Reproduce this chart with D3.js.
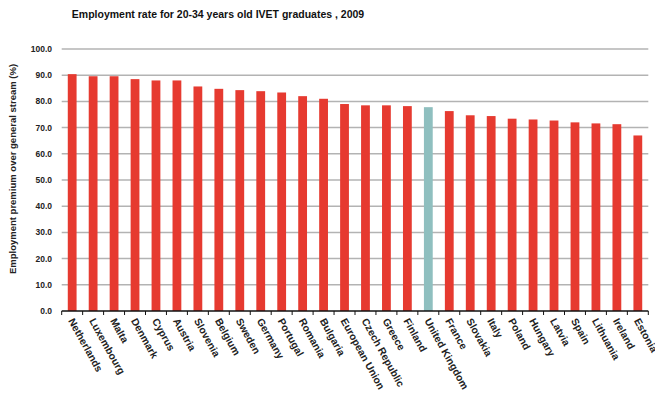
<!DOCTYPE html>
<html><head><meta charset="utf-8">
<script src="https://cdn.jsdelivr.net/npm/d3@7"></script>
<style>body{margin:0;background:#fff}svg{display:block}text{font-family:Arial,"Liberation Sans",sans-serif;}</style>
</head><body>
<svg id="c" width="655" height="399"></svg>
<script>
const categories = ["Netherlands","Luxembourg","Malta","Denmark","Cyprus","Austria","Slovenia","Belgium","Sweden","Germany","Portugal","Romania","Bulgaria","European Union","Czech Republic","Greece","Finland","United Kingdom","France","Slovakia","Italy","Poland","Hungary","Latvia","Spain","Lithuania","Ireland","Estonia"];
const values = [90.4,89.6,89.6,88.5,88.0,88.0,85.7,84.8,84.3,83.9,83.4,82.0,81.0,79.0,78.5,78.5,78.2,77.8,76.3,74.7,74.4,73.4,73.1,72.7,72.0,71.6,71.3,67.0];
const highlight = ["United Kingdom"];
const yTicks = [0,10,20,30,40,50,60,70,80,90,100];
const title = "Employment rate for 20-34 years old IVET graduates , 2009";
const yTitle = "Employment premium over general stream (%)";

const svg = d3.select("#c");
const x0 = 61.7, x1 = 648.3, yTop = 49, yBot = 311;
const x = d3.scaleBand().domain(categories).range([x0, x1]).paddingInner(0.58).paddingOuter(0.29);
const y = d3.scaleLinear().domain([0,100]).range([yBot, yTop]);

// gridlines
svg.append("g").selectAll("line").data(yTicks.filter(d=>d>0)).join("line")
  .attr("x1", x0).attr("x2", x1).attr("y1", d=>y(d)).attr("y2", d=>y(d))
  .attr("stroke", "#b3b3b3").attr("stroke-width", 1.5);

// y tick labels
svg.append("g").selectAll("text").data(yTicks).join("text")
  .attr("x", 52).attr("y", d=>y(d)).attr("dy","0.35em").attr("text-anchor","end")
  .attr("font-size", 8.5).attr("font-weight","bold").attr("fill","#222")
  .text(d=>d3.format(".1f")(d));

// bars
svg.append("g").selectAll("rect").data(categories).join("rect")
  .attr("x", d=>x(d)).attr("width", x.bandwidth())
  .attr("y", (d,i)=>y(values[i])).attr("height", (d,i)=>yBot - y(values[i]))
  .attr("fill", d=>highlight.includes(d) ? "#8fbfbf" : "#e63a30");

// x axis line and ticks at band boundaries
svg.append("line").attr("x1", x0).attr("x2", x1).attr("y1", yBot).attr("y2", yBot)
  .attr("stroke","#111").attr("stroke-width",1.5);
const bounds = d3.range(categories.length + 1).map(i => x0 + i * (x1 - x0) / categories.length);
svg.append("g").selectAll("line").data(bounds).join("line")
  .attr("x1", d=>d).attr("x2", d=>d).attr("y1", yBot).attr("y2", yBot+4)
  .attr("stroke","#111").attr("stroke-width",1);

// x labels
svg.append("g").selectAll("text").data(categories).join("text")
  .attr("transform", d=>`translate(${x(d)+x.bandwidth()/2-1},${yBot+8}) rotate(61)`)
  .attr("text-anchor","start").attr("dy","0.35em")
  .attr("font-size", 10.3).attr("font-weight","bold").attr("fill","#222")
  .text(d=>d);

// title
svg.append("text").attr("x", 218).attr("y", 18).attr("text-anchor","middle")
  .attr("font-size", 10.5).attr("font-weight","bold").attr("fill","#111").text(title);

// y title
svg.append("text").attr("transform", `translate(16,169) rotate(-90)`)
  .attr("text-anchor","middle").attr("font-size", 9.5).attr("font-weight","bold").attr("fill","#222")
  .text(yTitle);
</script>
</body></html>
